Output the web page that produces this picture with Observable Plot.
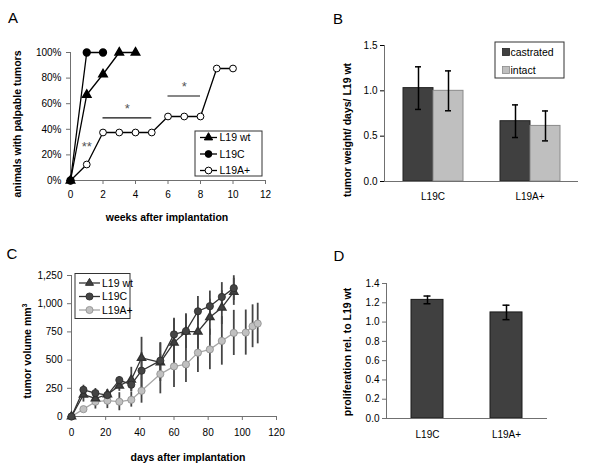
<!DOCTYPE html>
<html><head><meta charset="utf-8">
<script src="https://cdn.jsdelivr.net/npm/d3@7"></script>
<script src="https://cdn.jsdelivr.net/npm/@observablehq/plot@0.6"></script>
<style>
body{margin:0;background:#fff;}
#root{position:relative;width:600px;height:467px;font-family:"Liberation Sans",Arial,sans-serif;overflow:hidden;}
.panel{position:absolute;}
.panel svg{overflow:visible;}
.lbl{position:absolute;white-space:nowrap;transform:translate(-50%,-50%);color:#000;}
.ttl{font-weight:bold;font-size:10.5px;}
.rot{transform:translate(-50%,-50%) rotate(-90deg);}
.letter{font-size:15px;}
g[aria-label$="-axis tick"]{stroke:#707070;}
#overlay{position:absolute;left:0;top:0;pointer-events:none;}
</style></head><body><div id="root"></div>
<script>
// ---------- Panel A: animals with palpable tumors ----------
const weeks = [0,1,2,3,4,5,6,7,8,9,10];
const aWt = [0,67,83,100,100];
const aC = [0,100,100];
const aAplus = [0,12.5,37.5,37.5,37.5,37.5,50,50,50,87.5,87.5];
const aSeries = ["L19 wt","L19C","L19A+"];
const weekTicks = [0,2,4,6,8,10,12];
const pctTicks = [0,20,40,60,80,100];
const sigLines = [{x1:2,x2:5,y:49},{x1:6,x2:8,y:66}];
const sigLabels = [{x:1,y:26,t:"**"},{x:3.5,y:56,t:"*"},{x:7,y:73.5,t:"*"}];

// ---------- Panel B: tumor weight ----------
const bCategories = ["L19C","L19A+"];
const bGroups = ["castrated","intact"];
const bCastrated = [1.03,0.665];
const bCastratedErr = [0.235,0.18];
const bIntact = [1.00,0.613];
const bIntactErr = [0.22,0.165];
const bTicks = [0,0.5,1.0,1.5];

// ---------- Panel C: tumor volume ----------
const days = [0,7,14,21,28,35,41,52,60,67,74,81,88,95];
const daysAplus = [0,7,14,21,28,35,41,52,60,67,74,81,88,95,102,106,109];
const cWt = [0,193,160,195,273,326,519,480,655,752,752,880,965,1105];
const cWtErr = [0,65,50,45,50,110,183,170,208,150,180,160,150,120];
const cC = [0,237,208,190,323,282,406,495,728,757,933,978,1060,1138];
const cCErr = [0,40,40,40,30,60,160,160,142,155,130,134,127,110];
const cAplus = [0,65,131,140,131,148,228,376,444,462,566,595,670,741,744,800,824];
const cAplusErr = [0,20,65,70,80,65,110,175,186,160,175,180,215,200,200,190,180];
const cSeries = ["L19 wt","L19C","L19A+"];
const dayTicks = [0,20,40,60,80,100,120];
const volTicks = [0,250,500,750,1000,1250];

// ---------- Panel D: proliferation ----------
const dCategories = ["L19C","L19A+"];
const dValues = [1.23,1.10];
const dErr = [0.04,0.075];
const dTicks = [0,0.2,0.4,0.6,0.8,1.0,1.2,1.4];

const FONT = '"Liberation Sans", Arial, sans-serif';
const AX = "#707070";
const baseStyle = {fontFamily:FONT,fontSize:"10px",color:"#000",background:"transparent",overflow:"visible"};
const root = document.getElementById("root");

function place(node,left,top){
  const d=document.createElement("div");d.className="panel";d.style.left=left+"px";d.style.top=top+"px";
  d.appendChild(node);root.appendChild(d);
}
function label(html,cx,cy,cls){
  const d=document.createElement("div");d.className="lbl "+cls;d.innerHTML=html;
  d.style.left=cx+"px";d.style.top=cy+"px";root.appendChild(d);
}

// Panel A
const aRows = [
  ...aWt.map((v,i)=>({s:aSeries[0],w:weeks[i],p:v})),
  ...aC.map((v,i)=>({s:aSeries[1],w:weeks[i],p:v})),
  ...aAplus.map((v,i)=>({s:aSeries[2],w:weeks[i],p:v}))
];
const plotA = Plot.plot({
  width:300,height:230,marginLeft:70,marginRight:35,marginTop:52,marginBottom:50,
  style:baseStyle,
  x:{domain:[0,12],ticks:weekTicks,tickSize:4,tickPadding:6,label:null},
  y:{domain:[0,100],ticks:pctTicks,tickFormat:d=>d+"%",tickSize:4,tickPadding:5,label:null},
  marks:[
    Plot.ruleY([0],{stroke:AX}),
    Plot.ruleX([0],{stroke:AX}),
    Plot.ruleY(sigLines,{y:"y",x1:"x1",x2:"x2",stroke:"#111",strokeWidth:1.2}),
    Plot.text(sigLabels,{x:"x",y:"y",text:"t",fill:"#555",fontSize:13}),
    Plot.line(aRows,{x:"w",y:"p",z:"s",stroke:"#000",strokeWidth:1.3}),
    Plot.dot(aRows.filter(d=>d.s===aSeries[2]),{x:"w",y:"p",symbol:"circle",r:3.4,fill:"#fff",stroke:"#000",strokeWidth:1}),
    Plot.dot(aRows.filter(d=>d.s===aSeries[1]),{x:"w",y:"p",symbol:"circle",r:3.4,fill:"#000",stroke:"#000"}),
    Plot.dot(aRows.filter(d=>d.s===aSeries[0]),{x:"w",y:"p",symbol:"triangle",r:3.1,fill:"#000",stroke:"#000"})
  ]
});
place(plotA,0,0);

// Panel B
const bRows = [];
bCategories.forEach((c,i)=>{
  bRows.push({cat:c,g:bGroups[0],v:bCastrated[i],e:bCastratedErr[i]});
  bRows.push({cat:c,g:bGroups[1],v:bIntact[i],e:bIntactErr[i]});
});
const plotB = Plot.plot({
  width:300,height:230,marginLeft:83,marginRight:22,marginTop:45,marginBottom:49,
  style:baseStyle,
  facet:{data:bRows,x:"cat"},
  fx:{domain:bCategories,padding:0,label:null,tickSize:0,tickPadding:11,axis:"bottom"},
  x:{domain:bGroups,paddingInner:0,paddingOuter:0.57,axis:null},
  y:{domain:[0,1.5],ticks:bTicks,tickFormat:d3.format(".1f"),tickSize:4,tickPadding:3,label:null},
  color:{domain:bGroups,range:["#404040","#bfbfbf"]},
  marks:[
    Plot.barY(bRows,{x:"g",y:"v",fill:"g",stroke:d=>d.g===bGroups[0]?"#222":"#8a8a8a",strokeWidth:1}),
    Plot.ruleX(bRows,{x:"g",y1:d=>d.v-d.e,y2:d=>d.v+d.e,stroke:"#000",strokeWidth:1.5}),
    Plot.tickY(bRows,{x:"g",y:d=>d.v-d.e,insetLeft:12,insetRight:12,stroke:"#000",strokeWidth:1.5}),
    Plot.tickY(bRows,{x:"g",y:d=>d.v+d.e,insetLeft:12,insetRight:12,stroke:"#000",strokeWidth:1.5}),
    Plot.ruleY([0],{stroke:AX}),
    Plot.frame({anchor:"left",facet:"super",stroke:AX})
  ]
});
place(plotB,300,0);

// Panel C
const cRows = [
  ...cWt.map((v,i)=>({s:cSeries[0],d:days[i],v,e:cWtErr[i]})),
  ...cC.map((v,i)=>({s:cSeries[1],d:days[i],v,e:cCErr[i]})),
  ...cAplus.map((v,i)=>({s:cSeries[2],d:daysAplus[i],v,e:cAplusErr[i]}))
];
const plotC = Plot.plot({
  width:300,height:237,marginLeft:71,marginRight:24,marginTop:45,marginBottom:51,
  style:baseStyle,
  x:{domain:[0,120],ticks:dayTicks,tickSize:4,tickPadding:8,label:null},
  y:{domain:[0,1250],ticks:volTicks,tickFormat:d3.format(","),tickSize:4,tickPadding:5,label:null},
  marks:[
    Plot.ruleX(cRows.filter(d=>d.e>0),{x:"d",y1:d=>d.v-d.e,y2:d=>d.v+d.e,stroke:"#454545",strokeWidth:1.8}),
    Plot.ruleY([0],{stroke:AX}),
    Plot.ruleX([0],{stroke:AX}),
    Plot.line(cRows.filter(d=>d.s===cSeries[2]),{x:"d",y:"v",stroke:"#a6a6a6",strokeWidth:1.3}),
    Plot.line(cRows.filter(d=>d.s===cSeries[0]),{x:"d",y:"v",stroke:"#333",strokeWidth:1.3}),
    Plot.line(cRows.filter(d=>d.s===cSeries[1]),{x:"d",y:"v",stroke:"#333",strokeWidth:1.3}),
    Plot.dot(cRows.filter(d=>d.s===cSeries[2]),{x:"d",y:"v",r:3.6,fill:"#c0c0c0",stroke:"#8c8c8c",strokeWidth:0.8}),
    Plot.dot(cRows.filter(d=>d.s===cSeries[0]),{x:"d",y:"v",symbol:"triangle",r:3,fill:"#404040",stroke:"#333"}),
    Plot.dot(cRows.filter(d=>d.s===cSeries[1]),{x:"d",y:"v",r:3.6,fill:"#444",stroke:"#2a2a2a",strokeWidth:0.8})
  ]
});
place(plotC,0,230);

// Panel D
const dRows = dCategories.map((c,i)=>({cat:c,v:dValues[i],e:dErr[i]}));
const plotD = Plot.plot({
  width:300,height:237,marginLeft:86,marginRight:53,marginTop:53,marginBottom:49,
  style:baseStyle,
  x:{domain:dCategories,paddingInner:0.6,paddingOuter:0.31,tickSize:0,tickPadding:12,label:null},
  y:{domain:[0,1.4],ticks:dTicks,tickFormat:d3.format(".1f"),tickSize:4,tickPadding:3,label:null},
  marks:[
    Plot.barY(dRows,{x:"cat",y:"v",fill:"#404040",stroke:"#1a1a1a",strokeWidth:1}),
    Plot.ruleX(dRows,{x:"cat",y1:d=>d.v-d.e,y2:d=>d.v+d.e,stroke:"#000",strokeWidth:1.5}),
    Plot.tickY(dRows,{x:"cat",y:d=>d.v-d.e,insetLeft:12.5,insetRight:12.5,stroke:"#000",strokeWidth:1.5}),
    Plot.tickY(dRows,{x:"cat",y:d=>d.v+d.e,insetLeft:12.5,insetRight:12.5,stroke:"#000",strokeWidth:1.5}),
    Plot.ruleY([0],{stroke:AX}),
    Plot.frame({anchor:"left",stroke:AX})
  ]
});
place(plotD,300,230);

// Titles and panel letters
label("A",13,17,"letter");label("B",338,18,"letter");label("C",12,253,"letter");label("D",339,255,"letter");
label("animals with palpable tumors",17,124,"ttl rot");
label("weeks after implantation",167,217,"ttl");
label("tumor weight/ days/ L19 wt",347,130,"ttl rot");
label('tumor volume mm<sup style="font-size:7px;vertical-align:4px;line-height:0">3</sup>',27,351,"ttl rot");
label("days after implantation",188,457,"ttl");
label("proliferation rel. to L19 wt",347,352,"ttl rot");

// Legends (drawn with d3 in an overlay)
const ov = d3.select(root).append("svg").attr("id","overlay").attr("width",600).attr("height",467)
  .style("font-family",FONT).style("font-size","10.5px");
function lineLegend(box,rows,items){
  ov.append("rect").attr("x",box.x).attr("y",box.y).attr("width",box.w).attr("height",box.h)
    .attr("fill","#fff").attr("stroke","#333").attr("stroke-width",1);
  items.forEach((it,i)=>{
    const y=rows.y[i];
    ov.append("line").attr("x1",rows.x1).attr("x2",rows.x2).attr("y1",y).attr("y2",y)
      .attr("stroke",it.line).attr("stroke-width",1.3);
    ov.append("path").attr("transform",`translate(${(rows.x1+rows.x2)/2},${y})`)
      .attr("d",d3.symbol(it.sym==="triangle"?d3.symbolTriangle:d3.symbolCircle,it.size)())
      .attr("fill",it.fill).attr("stroke",it.stroke).attr("stroke-width",it.sw||1);
    ov.append("text").attr("x",rows.tx).attr("y",y).attr("dy","0.35em").text(it.name);
  });
}
lineLegend({x:195,y:131,w:67,h:45},{x1:200,x2:217,tx:219.5,y:[137.5,154,170.5]},[
  {name:aSeries[0],sym:"triangle",size:30,fill:"#000",stroke:"#000",line:"#000"},
  {name:aSeries[1],sym:"circle",size:36,fill:"#000",stroke:"#000",line:"#000"},
  {name:aSeries[2],sym:"circle",size:36,fill:"#fff",stroke:"#000",line:"#000"}
]);
lineLegend({x:75,y:273.5,w:55,h:45},{x1:79,x2:100,tx:102,y:[283,296.5,310]},[
  {name:cSeries[0],sym:"triangle",size:28,fill:"#404040",stroke:"#333",line:"#333"},
  {name:cSeries[1],sym:"circle",size:40,fill:"#444",stroke:"#2a2a2a",line:"#333",sw:0.8},
  {name:cSeries[2],sym:"circle",size:40,fill:"#c0c0c0",stroke:"#8c8c8c",line:"#a6a6a6",sw:0.8}
]);
// Panel B legend
ov.append("rect").attr("x",495).attr("y",42).attr("width",69).attr("height",36)
  .attr("fill","#fff").attr("stroke","#333");
bGroups.forEach((g,i)=>{
  const y=[52,70][i];
  ov.append("rect").attr("x",502.5).attr("y",y-3.5).attr("width",7).attr("height",7)
    .attr("fill",i===0?"#404040":"#bfbfbf").attr("stroke",i===0?"#222":"#8a8a8a").attr("stroke-width",0.8);
  ov.append("text").attr("x",510.5).attr("y",y).attr("dy","0.35em").text(g);
});
</script></body></html>
